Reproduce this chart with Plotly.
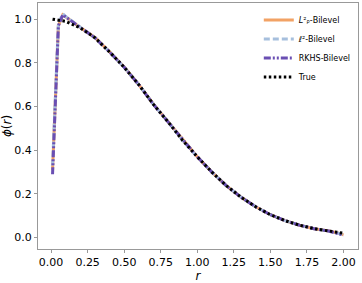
import plotly.graph_objects as go

# True curve readings
r_true = [0.01, 0.1, 0.2, 0.3, 0.4, 0.5, 0.6, 0.7, 0.8, 0.9, 1.0,
          1.1, 1.2, 1.3, 1.4, 1.5, 1.6, 1.7, 1.8, 1.9, 2.0]
phi_true = [1.00, 0.99, 0.96, 0.915, 0.85, 0.78, 0.70, 0.61, 0.53, 0.445, 0.37,
            0.30, 0.237, 0.185, 0.141, 0.105, 0.078, 0.057, 0.041, 0.030, 0.020]

# Bilevel estimates
r_est = [0.01, 0.03, 0.05, 0.08, 0.1, 0.2, 0.3, 0.4, 0.5, 0.6, 0.7, 0.8, 0.9, 1.0,
         1.1, 1.2, 1.3, 1.4, 1.5, 1.6, 1.7, 1.8, 1.9, 1.95, 2.0]
phi_l2rho = [0.31, 0.63, 0.97, 1.02, 1.01, 0.962, 0.916, 0.851, 0.781, 0.70, 0.611, 0.53,
             0.446, 0.37, 0.30, 0.237, 0.185, 0.141, 0.105, 0.078, 0.057, 0.041, 0.030, 0.024, 0.013]
phi_l2 = [0.33, 0.65, 0.98, 1.025, 1.012, 0.963, 0.915, 0.85, 0.78, 0.70, 0.61, 0.531,
          0.445, 0.37, 0.30, 0.237, 0.185, 0.141, 0.105, 0.078, 0.057, 0.041, 0.030, 0.023, 0.012]
phi_rkhs = [0.29, 0.62, 0.97, 1.02, 1.01, 0.962, 0.915, 0.85, 0.78, 0.70, 0.61, 0.53,
            0.445, 0.37, 0.30, 0.237, 0.185, 0.141, 0.105, 0.078, 0.057, 0.041, 0.030, 0.022, 0.011]

x_ticks = [0.0, 0.25, 0.5, 0.75, 1.0, 1.25, 1.5, 1.75, 2.0]
y_ticks = [0.0, 0.2, 0.4, 0.6, 0.8, 1.0]

fig = go.Figure()
fig.add_trace(go.Scatter(x=r_est, y=phi_l2rho, mode="lines",
                         name="<i>L</i>²ᵨ-Bilevel",
                         line=dict(color="#F2A265", width=3)))
fig.add_trace(go.Scatter(x=r_est, y=phi_l2, mode="lines",
                         name="<i>ℓ</i>²-Bilevel",
                         line=dict(color="#A6BFDD", width=3, dash="6px,3px")))
fig.add_trace(go.Scatter(x=r_est, y=phi_rkhs, mode="lines",
                         name="RKHS-Bilevel",
                         line=dict(color="#6A4FB3", width=3, dash="7px,2px,2px,2px,2px,2px")))
fig.add_trace(go.Scatter(x=r_true, y=phi_true, mode="lines",
                         name="True",
                         line=dict(color="black", width=3, dash="2.5px,2.5px")))

axis_common = dict(showgrid=False, zeroline=False, showline=True, linecolor="#999999",
                   linewidth=1, mirror=True, ticks="outside", ticklen=3, tickcolor="#999999",
                   tickfont=dict(size=11, color="black", family="DejaVu Sans"))

fig.update_layout(
    width=362, height=283,
    margin=dict(l=38, r=4, t=3, b=34),
    plot_bgcolor="white", paper_bgcolor="white",
    font=dict(family="DejaVu Sans", color="black"),
    xaxis=dict(range=[-0.0895, 2.0995], tickvals=x_ticks, tickformat=".2f",
               title=dict(text="<i>r</i>", font=dict(size=12), standoff=2), **axis_common),
    yaxis=dict(range=[-0.052, 1.074], tickvals=y_ticks, tickformat=".1f",
               title=dict(text="<i>ϕ</i>(<i>r</i>)", font=dict(size=12), standoff=4), **axis_common),
    legend=dict(x=0.69, y=0.99, xanchor="left", yanchor="top", bgcolor="rgba(255,255,255,0)",
                font=dict(size=8), itemwidth=30, tracegroupgap=0),
    showlegend=True,
)

fig.write_html("out.html", config={"displayModeBar": False},
               post_script="document.body.style.margin='0px';document.body.style.padding='0px';")
